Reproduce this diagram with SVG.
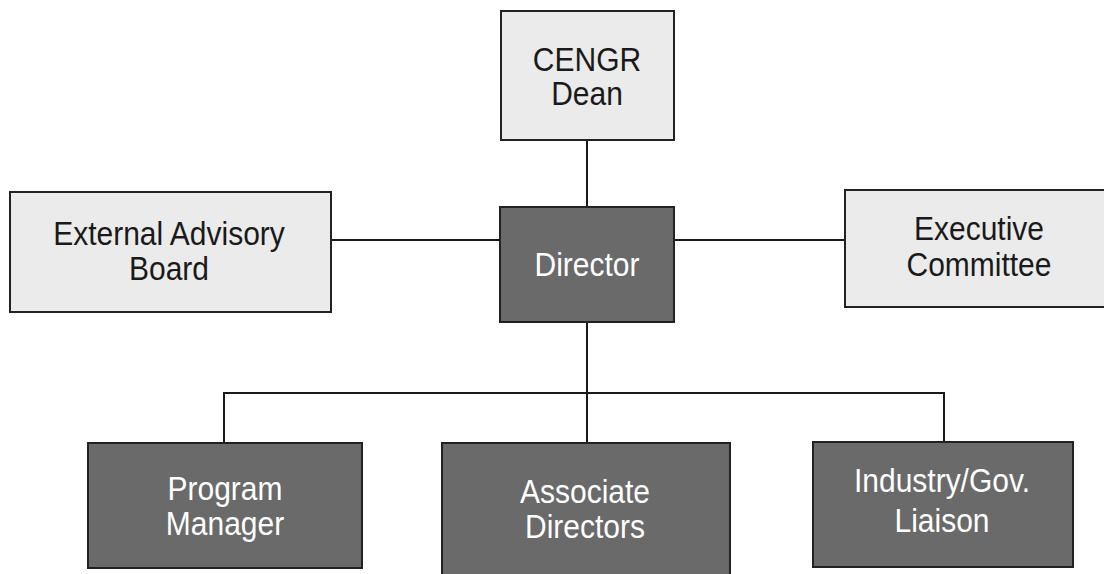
<svg xmlns="http://www.w3.org/2000/svg" width="1104" height="574" viewBox="0 0 1104 574">
<style>
.light{fill:#ebebeb;stroke:#222;stroke-width:2}
.dark{fill:#6a6a6a;stroke:#222;stroke-width:2}
.conn{stroke:#1a1a1a;stroke-width:2;fill:none}
text{font-family:"Liberation Sans",Arial,sans-serif;font-size:30px;text-anchor:middle}
.tl{fill:#1a1a1a}
.td{fill:#ffffff}
</style>
<rect width="1104" height="574" fill="#ffffff"/>
<g id="connectors">
<line class="conn" x1="587" y1="140" x2="587" y2="207"/>
<line class="conn" x1="331" y1="240" x2="500" y2="240"/>
<line class="conn" x1="674" y1="240" x2="845" y2="240"/>
<line class="conn" x1="587" y1="322" x2="587" y2="443"/>
<polyline class="conn" points="224,443 224,393 944,393 944,442"/>
</g>
<g id="dean">
<rect class="light" x="501" y="11" width="173" height="129"/>
<text class="tl" transform="translate(587,71) scale(1,1.1)">CENGR</text>
<text class="tl" transform="translate(587,105) scale(1,1.1)">Dean</text>
</g>
<g id="advisory">
<rect class="light" x="10" y="192" width="321" height="120"/>
<text class="tl" transform="translate(169,245) scale(1,1.1)">External Advisory</text>
<text class="tl" transform="translate(169,280) scale(1,1.1)">Board</text>
</g>
<g id="director">
<rect class="dark" x="500" y="207" width="174" height="115"/>
<text class="td" transform="translate(587,276) scale(1,1.1)">Director</text>
</g>
<g id="executive">
<rect class="light" x="845" y="190" width="270" height="117"/>
<text class="tl" transform="translate(979,240) scale(1,1.1)">Executive</text>
<text class="tl" transform="translate(979,276) scale(1,1.1)">Committee</text>
</g>
<g id="program">
<rect class="dark" x="88" y="443" width="274" height="125"/>
<text class="td" transform="translate(225,500) scale(1,1.1)">Program</text>
<text class="td" transform="translate(225,535) scale(1,1.1)">Manager</text>
</g>
<g id="associate">
<rect class="dark" x="442" y="443" width="288" height="140"/>
<text class="td" transform="translate(585,503) scale(1,1.1)">Associate</text>
<text class="td" transform="translate(585,538) scale(1,1.1)">Directors</text>
</g>
<g id="liaison">
<rect class="dark" x="813" y="442" width="260" height="125"/>
<text class="td" transform="translate(942,492) scale(1,1.1)">Industry/Gov.</text>
<text class="td" transform="translate(942,532) scale(1,1.1)">Liaison</text>
</g>
</svg>
